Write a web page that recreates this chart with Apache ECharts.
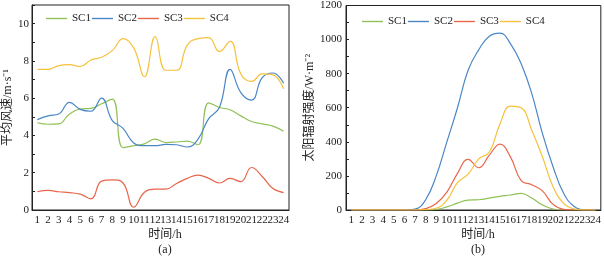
<!DOCTYPE html>
<html lang="zh">

<head>
    <meta charset="UTF-8">
    <title>风速与太阳辐射</title>
    <style>
        html, body { margin: 0; padding: 0; background: #fff; }
        #main { width: 604px; height: 257px; }
    </style>
    <script src="https://cdn.jsdelivr.net/npm/echarts@6/dist/echarts.min.js"></script>
</head>

<body>
    <div id="main"></div>

    <script>
        // hours of day
        var hours = ['1', '2', '3', '4', '5', '6', '7', '8', '9', '10', '11', '12',
            '13', '14', '15', '16', '17', '18', '19', '20', '21', '22', '23', '24'];

        // (a) mean wind speed, m/s
        var windSC1 = [4.68, 4.6, 4.62, 5.15, 5.42, 5.45, 5.7, 5.95, 3.35, 3.45, 3.55, 3.8,
            3.62, 3.65, 3.7, 3.5, 5.75, 5.5, 5.38, 5.05, 4.75, 4.62, 4.5, 4.22];
        var windSC2 = [4.85, 5.05, 5.15, 5.78, 5.4, 5.3, 6.0, 4.8, 4.38, 3.6, 3.45, 3.45,
            3.52, 3.5, 3.38, 3.8, 4.9, 5.5, 7.55, 6.3, 5.9, 7.1, 7.35, 6.8];
        var windSC3 = [0.98, 1.05, 0.98, 0.93, 0.85, 0.6, 1.55, 1.62, 1.45, 0.15, 0.95, 1.12,
            1.12, 1.42, 1.7, 1.87, 1.7, 1.45, 1.7, 1.52, 2.28, 1.8, 1.15, 0.93];
        var windSC4 = [7.55, 7.55, 7.75, 7.8, 7.7, 8.05, 8.2, 8.55, 9.2, 8.7, 7.15, 9.3,
            7.5, 7.5, 8.85, 9.2, 9.25, 8.5, 9.05, 7.3, 6.9, 7.3, 7.25, 6.5];

        // (b) solar radiation, W/m2
        var solarSC1 = [0, 0, 0, 0, 0, 0, 0, 0, 3, 18, 40, 58, 60, 70, 80, 88, 98, 70, 30, 6, 0, 0, 0, 0];
        var solarSC2 = [0, 0, 0, 0, 0, 0, 5, 60, 200, 400, 600, 820, 940, 1020, 1038, 975, 858, 683, 450, 254, 98, 20, 0, 0];
        var solarSC3 = [0, 0, 0, 0, 0, 0, 0, 8, 38, 105, 215, 297, 248, 322, 387, 310, 172, 148, 112, 33, 4, 0, 0, 0];
        var solarSC4 = [0, 0, 0, 0, 0, 0, 0, 2, 10, 58, 160, 210, 300, 340, 505, 610, 600, 468, 312, 137, 39, 6, 0, 0];

        var names = ['SC1', 'SC2', 'SC3', 'SC4'];
        var colors = ['#8fc156', '#4a87c7', '#e8664c', '#f6c13c'];

        var serif = 'Liberation Serif, "Noto Sans CJK SC", serif';
        var ink = '#222';

        function xAx(idx) {
            return {
                type: 'category',
                gridIndex: idx,
                data: hours,
                boundaryGap: true,
                axisLine: { lineStyle: { color: ink, width: 1 } },
                axisTick: { alignWithLabel: true, inside: true, length: 3, lineStyle: { color: ink } },
                axisLabel: { interval: 0, margin: 5, color: ink, fontFamily: serif, fontSize: 11 },
                splitLine: { show: false }
            };
        }

        function line(name, i, data, idx) {
            return {
                name: name,
                type: 'line',
                xAxisIndex: idx,
                yAxisIndex: idx,
                data: data,
                smooth: 0.45,
                symbol: 'none',
                lineStyle: { color: colors[i], width: 1.2 },
                itemStyle: { color: colors[i] }
            };
        }

        var myChart = echarts.init(document.getElementById('main'));

        var legendBase = {
            icon: 'rect', itemWidth: 21, itemHeight: 1.4, itemGap: 1,
            textStyle: { fontFamily: serif, fontSize: 11, color: ink }
        };

        var option = {
            animation: false,
            backgroundColor: '#fff',
            color: colors,
            title: [
                { text: '时间/h', left: 160, top: 224, textAlign: 'center',
                  textStyle: { fontSize: 12, fontWeight: 'normal', color: ink, fontFamily: serif } },
                { text: '(a)', left: 160, top: 239, textAlign: 'center',
                  textStyle: { fontSize: 12, fontWeight: 'normal', color: ink, fontFamily: serif } },
                { text: '时间/h', left: 473, top: 224, textAlign: 'center',
                  textStyle: { fontSize: 12, fontWeight: 'normal', color: ink, fontFamily: serif } },
                { text: '(b)', left: 473, top: 239, textAlign: 'center',
                  textStyle: { fontSize: 12, fontWeight: 'normal', color: ink, fontFamily: serif } }
            ],
            legend: [
                Object.assign({}, legendBase, { data: names, left: 41, top: 8 }),
                Object.assign({}, legendBase, {
                    data: names.map(function (n) { return n + ' '; }), left: 357, top: 11,
                    formatter: function (n) { return n.trim(); }
                })
            ],
            grid: [
                { left: 32, right: 315, top: 5, bottom: 47, show: true, borderColor: ink, borderWidth: 1 },
                { left: 346, right: 3, top: 5, bottom: 47, show: true, borderColor: ink, borderWidth: 1 }
            ],
            xAxis: [xAx(0), xAx(1)],
            yAxis: [
                {
                    type: 'value', gridIndex: 0, min: 0, max: 11, interval: 1,
                    name: '平均风速/m·s⁻¹', nameLocation: 'middle', nameGap: 12,
                    nameTextStyle: { fontFamily: serif, fontSize: 12, color: ink },
                    axisLine: { show: true, lineStyle: { color: ink } },
                    axisTick: { show: true, inside: true, length: 3, lineStyle: { color: ink } },
                    axisLabel: {
                        margin: 3, color: ink, fontFamily: serif, fontSize: 11,
                        formatter: function (v) { return v % 2 === 0 ? String(v) : ''; }
                    },
                    splitLine: { show: false }
                },
                {
                    type: 'value', gridIndex: 1, min: 0, max: 1200, interval: 200,
                    name: '太阳辐射强度/W·m⁻²', nameLocation: 'middle', nameGap: 21,
                    nameTextStyle: { fontFamily: serif, fontSize: 12, color: ink },
                    axisLine: { show: true, lineStyle: { color: ink } },
                    axisTick: { show: true, inside: true, length: 3, lineStyle: { color: ink } },
                    minorTick: { show: true, splitNumber: 2, length: 3, lineStyle: { color: ink } },
                    axisLabel: {
                        margin: 4, color: ink, fontFamily: serif, fontSize: 11,
                        formatter: function (v) { return String(v); }
                    },
                    splitLine: { show: false }
                }
            ],
            series: [
                line('SC1', 0, windSC1, 0),
                line('SC2', 1, windSC2, 0),
                line('SC3', 2, windSC3, 0),
                line('SC4', 3, windSC4, 0),
                line('SC1 ', 0, solarSC1, 1),
                line('SC2 ', 1, solarSC2, 1),
                line('SC3 ', 2, solarSC3, 1),
                line('SC4 ', 3, solarSC4, 1)
            ]
        };

        myChart.setOption(option);
    </script>
</body>

</html>
